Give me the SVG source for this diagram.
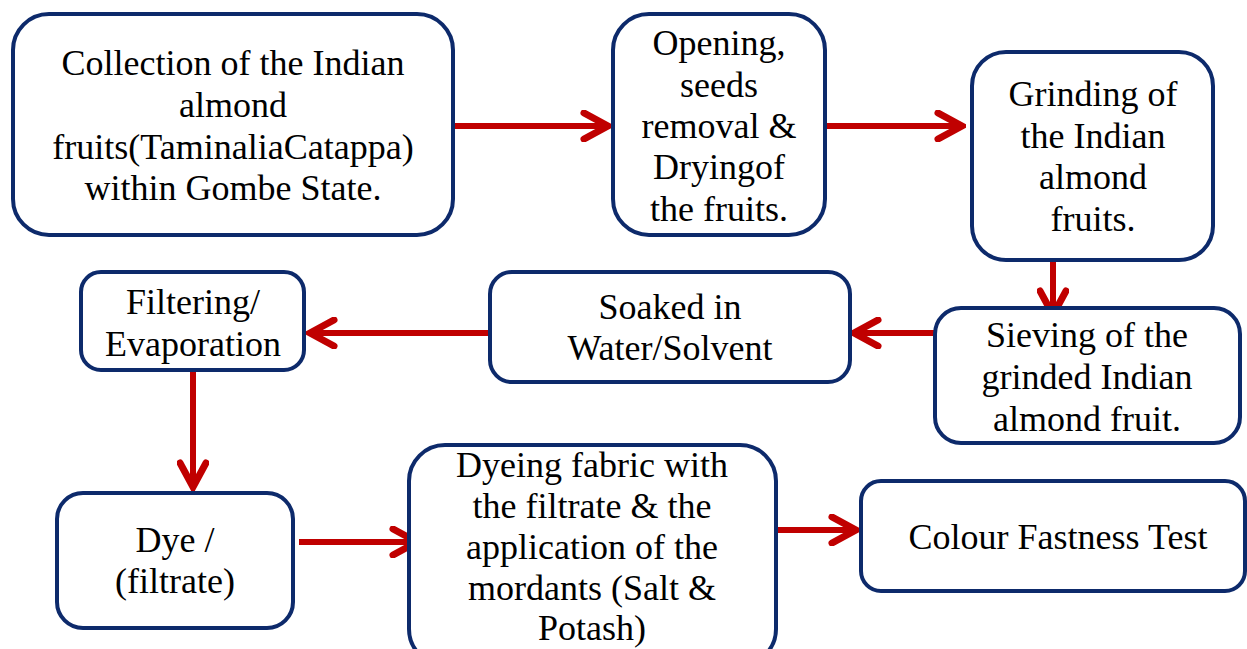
<svg xmlns="http://www.w3.org/2000/svg" width="1247" height="649" viewBox="0 0 1247 649">
<style>
.box{fill:#fff;stroke:#0d2a6b;stroke-width:4}
.t{font-family:"Liberation Serif","Times New Roman",Times,"DejaVu Serif",serif;font-size:36px;fill:#000;text-anchor:middle}
.c{stroke:#c00000;stroke-width:6;fill:none}
</style>
<defs>
<marker id="ah" markerUnits="userSpaceOnUse" viewBox="-30 -16 34 32" markerWidth="34" markerHeight="32" refX="0" refY="0" orient="auto">
<polyline points="-24,-13 0,0 -24,13" fill="none" stroke="#c00000" stroke-width="7" stroke-linecap="round" stroke-linejoin="miter"/>
</marker>
</defs>
<rect width="1247" height="649" fill="#fff"/>
<g id="connectors">
<line class="c" x1="455" y1="126" x2="608" y2="126" marker-end="url(#ah)"/>
<line class="c" x1="820" y1="126" x2="962" y2="126" marker-end="url(#ah)"/>
<line class="c" x1="1053" y1="261" x2="1053" y2="315" marker-end="url(#ah)"/>
<line class="c" x1="935" y1="333" x2="854" y2="333" marker-end="url(#ah)"/>
<line class="c" x1="490" y1="333" x2="310" y2="333" marker-end="url(#ah)"/>
<line class="c" x1="193" y1="372" x2="193" y2="487" marker-end="url(#ah)"/>
<line class="c" x1="299" y1="542" x2="417" y2="542" marker-end="url(#ah)"/>
<line class="c" x1="776" y1="530" x2="856" y2="530" marker-end="url(#ah)"/>
</g>
<g id="n1"><rect class="box" x="13" y="14" width="440" height="221" rx="36"/>
<text class="t" x="233" y="75">Collection of the Indian</text>
<text class="t" x="233" y="117">almond</text>
<text class="t" x="233" y="159">fruits(TaminaliaCatappa)</text>
<text class="t" x="233" y="200">within Gombe State.</text></g>
<g id="n2"><rect class="box" x="613" y="14" width="212" height="221" rx="36"/>
<text class="t" x="719" y="55">Opening,</text>
<text class="t" x="719" y="97">seeds</text>
<text class="t" x="719" y="138">removal &amp;</text>
<text class="t" x="719" y="179">Dryingof</text>
<text class="t" x="719" y="221">the fruits.</text></g>
<g id="n3"><rect class="box" x="972" y="52" width="241" height="208" rx="34"/>
<text class="t" x="1093" y="106">Grinding of</text>
<text class="t" x="1093" y="148">the Indian</text>
<text class="t" x="1093" y="189">almond</text>
<text class="t" x="1093" y="231">fruits.</text></g>
<g id="n4"><rect class="box" x="935" y="308" width="305" height="135" rx="26"/>
<text class="t" x="1087" y="347">Sieving of the</text>
<text class="t" x="1087" y="389">grinded Indian</text>
<text class="t" x="1087" y="431">almond fruit.</text></g>
<g id="n5"><rect class="box" x="490" y="272" width="360" height="110" rx="22"/>
<text class="t" x="670" y="319">Soaked in</text>
<text class="t" x="670" y="360">Water/Solvent</text></g>
<g id="n6"><rect class="box" x="81" y="272" width="223" height="98" rx="20"/>
<text class="t" x="193" y="314">Filtering/</text>
<text class="t" x="193" y="356">Evaporation</text></g>
<g id="n7"><rect class="box" x="57" y="493" width="236" height="135" rx="26"/>
<text class="t" x="175" y="552">Dye /</text>
<text class="t" x="175" y="593">(filtrate)</text></g>
<g id="n8"><rect class="box" x="409" y="445" width="367" height="220" rx="36"/>
<text class="t" x="592" y="477">Dyeing fabric with</text>
<text class="t" x="592" y="518">the filtrate &amp; the</text>
<text class="t" x="592" y="559">application of the</text>
<text class="t" x="592" y="600">mordants (Salt &amp;</text>
<text class="t" x="592" y="640">Potash)</text></g>
<g id="n9"><rect class="box" x="861" y="481" width="384" height="110" rx="20"/>
<text class="t" x="1058" y="549">Colour Fastness Test</text></g>
</svg>
